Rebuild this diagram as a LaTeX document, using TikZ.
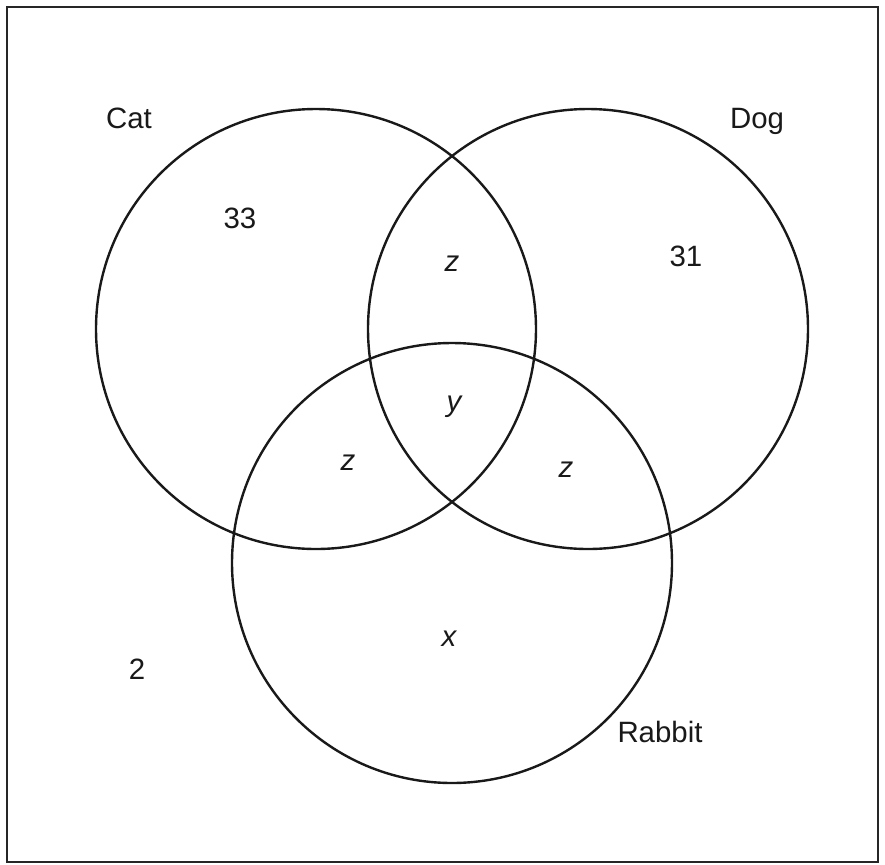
\documentclass[tikz,border=0pt]{standalone}
\usepackage{fontspec}
\setmainfont{Liberation Sans}
\usetikzlibrary{calc}
\tikzset{
    setcircle/.style={
        draw=black!90,            % contorno casi negro
        line width=1.2pt          % trazo firme
    },
    universe/.style={
        draw=black!85,
        line width=1.1pt
    },
    setname/.style={
        anchor=base,              % alinear por la línea base
        inner sep=0pt,
        text=black!90,
        font=\fontsize{14.7}{17}\selectfont
    },
    regionvar/.style={
        setname,
        font=\fontsize{14.7}{17}\selectfont\itshape
    }
}

\begin{document}
\begin{tikzpicture}[x=0.5pt,y=-0.5pt]
    \useasboundingbox (0,0) rectangle (885,864);
    \draw[universe] (7,7) rectangle (878,862);

    % centros de los conjuntos
    \coordinate (catc) at (316,329);
    \coordinate (dogc) at (588,329);
    \coordinate (rabc) at (452,563);

    \draw[setcircle] (catc) circle[radius=110pt];
    \draw[setcircle] (dogc) circle[radius=110pt];
    \draw[setcircle] (rabc) circle[radius=110pt];

    \node[setname] (cat) at (129,128) {Cat};
    \node[setname] (dog) at (757,128) {Dog};
    \node[setname] (rabbit) at (660,742) {Rabbit};

    \node[setname] (onlycat) at (240,228) {33};
    \node[setname] (onlydog) at (686,266) {31};
    \node[setname] (none) at (137,679) {2};

    \node[regionvar] (catdog) at (452,271) {z};
    \node[regionvar] (all) at (454,411) {y};
    \node[regionvar] (catrab) at (348,470) {z};
    \node[regionvar] (dograb) at (566,477) {z};
    \node[regionvar] (onlyrab) at (449,646) {x};
\end{tikzpicture}
\end{document}
